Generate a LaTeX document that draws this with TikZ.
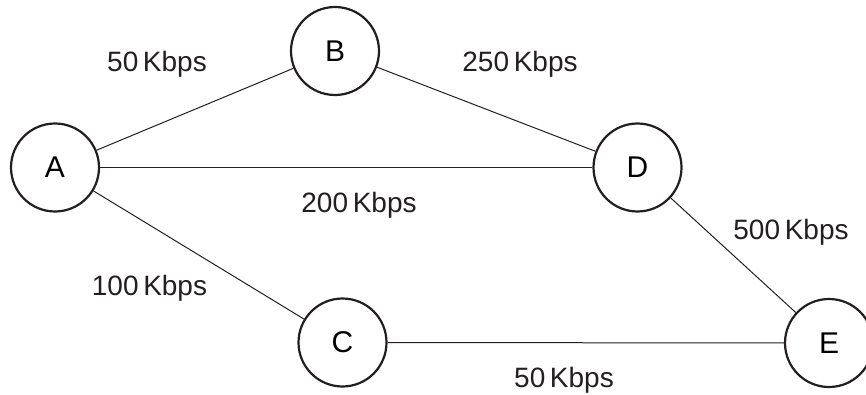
\documentclass[tikz,border=0pt]{standalone}
\usepackage{fontspec}
\setmainfont{Liberation Sans}
\definecolor{ink}{HTML}{231F20}
\begin{document}
\begin{tikzpicture}[x=1pt, y=1pt,
    station/.style={circle, draw=ink, line width=2.2pt, minimum size=88pt, inner sep=0pt, font=\fontsize{30}{33}\selectfont},
    link/.style={draw=ink, line width=1pt},
    rate/.style={anchor=base, inner sep=0pt, font=\fontsize{28}{31}\selectfont, text=ink}]
\useasboundingbox (0,0) rectangle (866,394);
\node[station](A) at (55,226.5){A};
\node[station](B) at (335,343){B};
\node[station](D) at (637.5,226.5){D};
\node[station](C) at (342.5,51.5){C};
\node[station](E) at (829,51){E};
\draw[link](A)--(B);
\draw[link](A)--(D);
\draw[link](A)--(C);
\draw[link](B)--(D);
\draw[link](D)--(E);
\draw[link](C)--(E);
\node[rate](ab) at (157,322){50\,Kbps};
\node[rate](bd) at (520,322){250\,Kbps};
\node[rate](ad) at (359,182){200\,Kbps};
\node[rate](de) at (791,155){500\,Kbps};
\node[rate](ac) at (149.5,99){100\,Kbps};
\node[rate](ce) at (564,7){50\,Kbps};
\end{tikzpicture}
\end{document}
